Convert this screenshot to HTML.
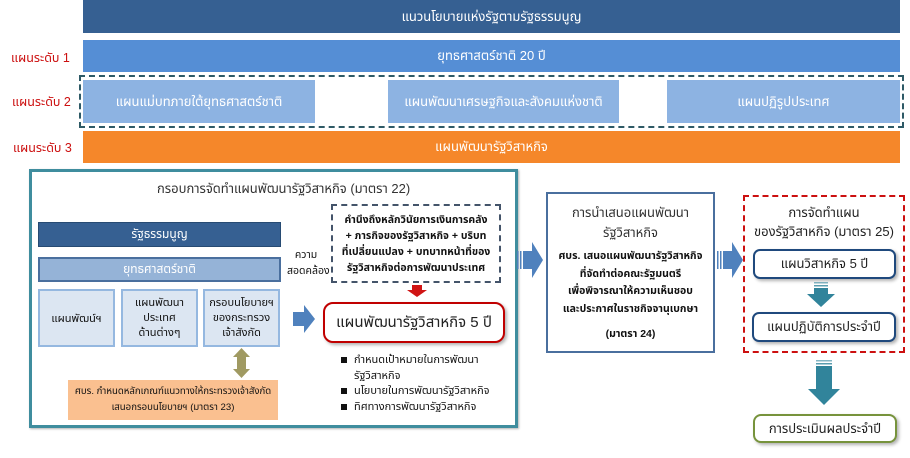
<!DOCTYPE html>
<html>
<head>
<meta charset="utf-8">
<style>
  html,body{margin:0;padding:0;background:#fff;}
  body{width:910px;height:458px;position:relative;overflow:hidden;
    font-family:"Liberation Sans","Noto Sans Thai","Loma","Garuda","Tlwg Typo","Norasi","DejaVu Sans",sans-serif;}
  .a{position:absolute;box-sizing:border-box;}
  .c{display:flex;align-items:center;justify-content:center;text-align:center;}
  .w{color:#fff;font-size:13px;}
  .lbl{color:#cc1010;font-size:12.5px;white-space:nowrap;}
</style>
</head>
<body>

<!-- top bars -->
<div class="a c w" style="left:83px;top:0;width:817px;height:33px;background:#366092;">แนวนโยบายแห่งรัฐตามรัฐธรรมนูญ</div>
<div class="a c w" style="left:83px;top:40px;width:817px;height:32px;background:#558ed5;">ยุทธศาสตร์ชาติ 20 ปี</div>
<div class="a lbl" style="left:11px;top:49px;">แผนระดับ 1</div>

<div class="a" style="left:79px;top:75px;width:825px;height:53px;border:2.5px dashed #2e5a66;"></div>
<div class="a c w" style="left:83px;top:80px;width:232px;height:43px;background:#8db3e2;">แผนแม่บทภายใต้ยุทธศาสตร์ชาติ</div>
<div class="a c w" style="left:388px;top:80px;width:231px;height:43px;background:#8db3e2;">แผนพัฒนาเศรษฐกิจและสังคมแห่งชาติ</div>
<div class="a c w" style="left:667px;top:80px;width:233px;height:43px;background:#8db3e2;">แผนปฏิรูปประเทศ</div>
<div class="a lbl" style="left:12px;top:93px;">แผนระดับ 2</div>

<div class="a c w" style="left:83px;top:131px;width:817px;height:32px;background:#f5872a;">แผนพัฒนารัฐวิสาหกิจ</div>
<div class="a lbl" style="left:13px;top:139px;">แผนระดับ 3</div>

<!-- main teal box -->
<div class="a" style="left:29px;top:169px;width:489px;height:259px;border:3px solid #3f8d9e;box-shadow:1px 1px 2px rgba(0,0,0,0.3);"></div>
<div class="a" style="left:157px;top:179px;font-size:13px;color:#333;white-space:nowrap;">กรอบการจัดทำแผนพัฒนารัฐวิสาหกิจ (มาตรา 22)</div>

<div class="a c w" style="left:38px;top:222px;width:243px;height:25px;background:#366092;border:1px solid #274b73;font-size:12px;">รัฐธรรมนูญ</div>
<div class="a c w" style="left:38px;top:257px;width:243px;height:25px;background:#95b3d7;border:2px solid #4a6f9e;font-size:12px;">ยุทธศาสตร์ชาติ</div>

<div class="a c" style="left:38px;top:289px;width:77px;height:58px;background:#dce6f2;border:2px solid #95b8e0;font-size:11px;color:#111;">แผนพัฒน์ฯ</div>
<div class="a c" style="left:121px;top:289px;width:77px;height:58px;background:#dce6f2;border:2px solid #95b8e0;font-size:11px;color:#111;line-height:15px;">แผนพัฒนา<br>ประเทศ<br>ด้านต่างๆ</div>
<div class="a c" style="left:203px;top:289px;width:77px;height:58px;background:#dce6f2;border:2px solid #95b8e0;font-size:11px;color:#111;line-height:15px;">กรอบนโยบายฯ<br>ของกระทรวง<br>เจ้าสังกัด</div>

<div class="a c" style="left:68px;top:380px;width:210px;height:40px;background:#fac090;font-size:9.6px;color:#111;line-height:16px;white-space:nowrap;">ศบร. กำหนดหลักเกณฑ์แนวทางให้กระทรวงเจ้าสังกัด<br>เสนอกรอบนโยบายฯ (มาตรา 23)</div>

<div class="a" style="left:287px;top:247px;width:38px;font-size:10.5px;color:#111;text-align:center;line-height:16px;">ความ<br>สอดคล้อง</div>

<div class="a c" style="left:331px;top:204px;width:170px;height:79px;border:2px dashed #44546a;font-size:10.5px;color:#111;line-height:16px;font-weight:bold;white-space:nowrap;">คำนึงถึงหลักวินัยการเงินการคลัง<br>+ ภารกิจของรัฐวิสาหกิจ + บริบท<br>ที่เปลี่ยนแปลง + บทบาทหน้าที่ของ<br>รัฐวิสาหกิจต่อการพัฒนาประเทศ</div>

<div class="a c" style="left:323px;top:302px;width:182px;height:41px;border:2.5px solid #c00000;border-radius:10px;background:#fff;box-shadow:2px 2px 3px rgba(0,0,0,0.3);font-size:15px;color:#222;">แผนพัฒนารัฐวิสาหกิจ 5 ปี</div>

<div class="a" style="left:341px;top:353px;font-size:11px;color:#111;line-height:15.5px;">
  <div style="position:relative;padding-left:13px;"><span style="position:absolute;left:0;top:4px;width:6px;height:6px;background:#111;"></span>กำหนดเป้าหมายในการพัฒนา<br>รัฐวิสาหกิจ</div>
  <div style="position:relative;padding-left:13px;"><span style="position:absolute;left:0;top:4px;width:6px;height:6px;background:#111;"></span>นโยบายในการพัฒนารัฐวิสาหกิจ</div>
  <div style="position:relative;padding-left:13px;"><span style="position:absolute;left:0;top:4px;width:6px;height:6px;background:#111;"></span>ทิศทางการพัฒนารัฐวิสาหกิจ</div>
</div>

<!-- presentation box -->
<div class="a" style="left:546px;top:192px;width:169px;height:161px;border:2px solid #4a6f9e;background:#fff;text-align:center;color:#111;">
  <div style="font-size:13px;line-height:20px;margin-top:9px;color:#333;">การนำเสนอแผนพัฒนา<br>รัฐวิสาหกิจ</div>
  <div style="font-size:10.5px;line-height:17.5px;font-weight:bold;margin-top:5px;white-space:nowrap;">ศบร. เสนอแผนพัฒนารัฐวิสาหกิจ<br>ที่จัดทำต่อคณะรัฐมนตรี<br>เพื่อพิจารณาให้ความเห็นชอบ<br>และประกาศในราชกิจจานุเบกษา</div>
  <div style="font-size:10.5px;line-height:17.5px;font-weight:bold;margin-top:8px;">(มาตรา 24)</div>
</div>

<!-- red dashed box -->
<div class="a" style="left:743px;top:195px;width:162px;height:158px;border:2px dashed #cc1010;"></div>
<div class="a" style="left:745px;top:203px;width:158px;text-align:center;font-size:13px;line-height:19px;color:#222;">การจัดทำแผน<br>ของรัฐวิสาหกิจ (มาตรา 25)</div>
<div class="a c" style="left:753px;top:249px;width:143px;height:30px;border:2.5px solid #1f497d;border-radius:7px;background:#fff;box-shadow:2px 2px 3px rgba(0,0,0,0.3);font-size:13px;color:#222;">แผนวิสาหกิจ 5 ปี</div>
<div class="a c" style="left:752px;top:312px;width:144px;height:30px;border:2.5px solid #1f497d;border-radius:7px;background:#fff;box-shadow:2px 2px 3px rgba(0,0,0,0.3);font-size:13px;color:#222;">แผนปฏิบัติการประจำปี</div>

<div class="a c" style="left:753px;top:414px;width:144px;height:29px;border:2.5px solid #77933c;border-radius:8px;background:#fff;box-shadow:2px 2px 3px rgba(0,0,0,0.3);font-size:13px;color:#222;">การประเมินผลประจำปี</div>

<!-- arrows -->
<svg class="a" style="left:0;top:0;" width="910" height="458" viewBox="0 0 910 458">
  <polygon points="293,312 304,312 304,305 315,319 304,333 304,326 293,326" fill="#4f81bd"/>
  <polygon points="241.5,348 250,357 246,357 246,369 250,369 241.5,378 233,369 237,369 237,357 233,357" fill="#a09a62"/>
  <polygon points="412,285 422,285 422,290 427,290 417,297 407,290 412,290" fill="#d01414"/>
  <g fill="#4f81bd">
    <rect x="517" y="251" width="1.5" height="18"/>
    <rect x="520" y="251" width="1.5" height="18"/>
    <polygon points="523,251 532,251 532,242 543,260 532,278 532,269 523,269"/>
  </g>
  <g fill="#4f81bd">
    <rect x="717" y="251" width="1.5" height="18"/>
    <rect x="720" y="251" width="1.5" height="18"/>
    <polygon points="723,251 732,251 732,242 743,260 732,278 732,269 723,269"/>
  </g>
  <g fill="#31849b">
    <rect x="814" y="282" width="14" height="1.5" opacity="0.6"/>
    <rect x="814" y="285" width="14" height="1.5" opacity="0.8"/>
    <polygon points="814,288 828,288 828,294 835,294 821,307 807,294 814,294"/>
  </g>
  <g fill="#31849b">
    <rect x="816" y="360" width="16" height="1.5" opacity="0.6"/>
    <rect x="816" y="363" width="16" height="1.5" opacity="0.8"/>
    <polygon points="816,366 832,366 832,389 840,389 824,405 808,389 816,389"/>
  </g>
</svg>

</body>
</html>
